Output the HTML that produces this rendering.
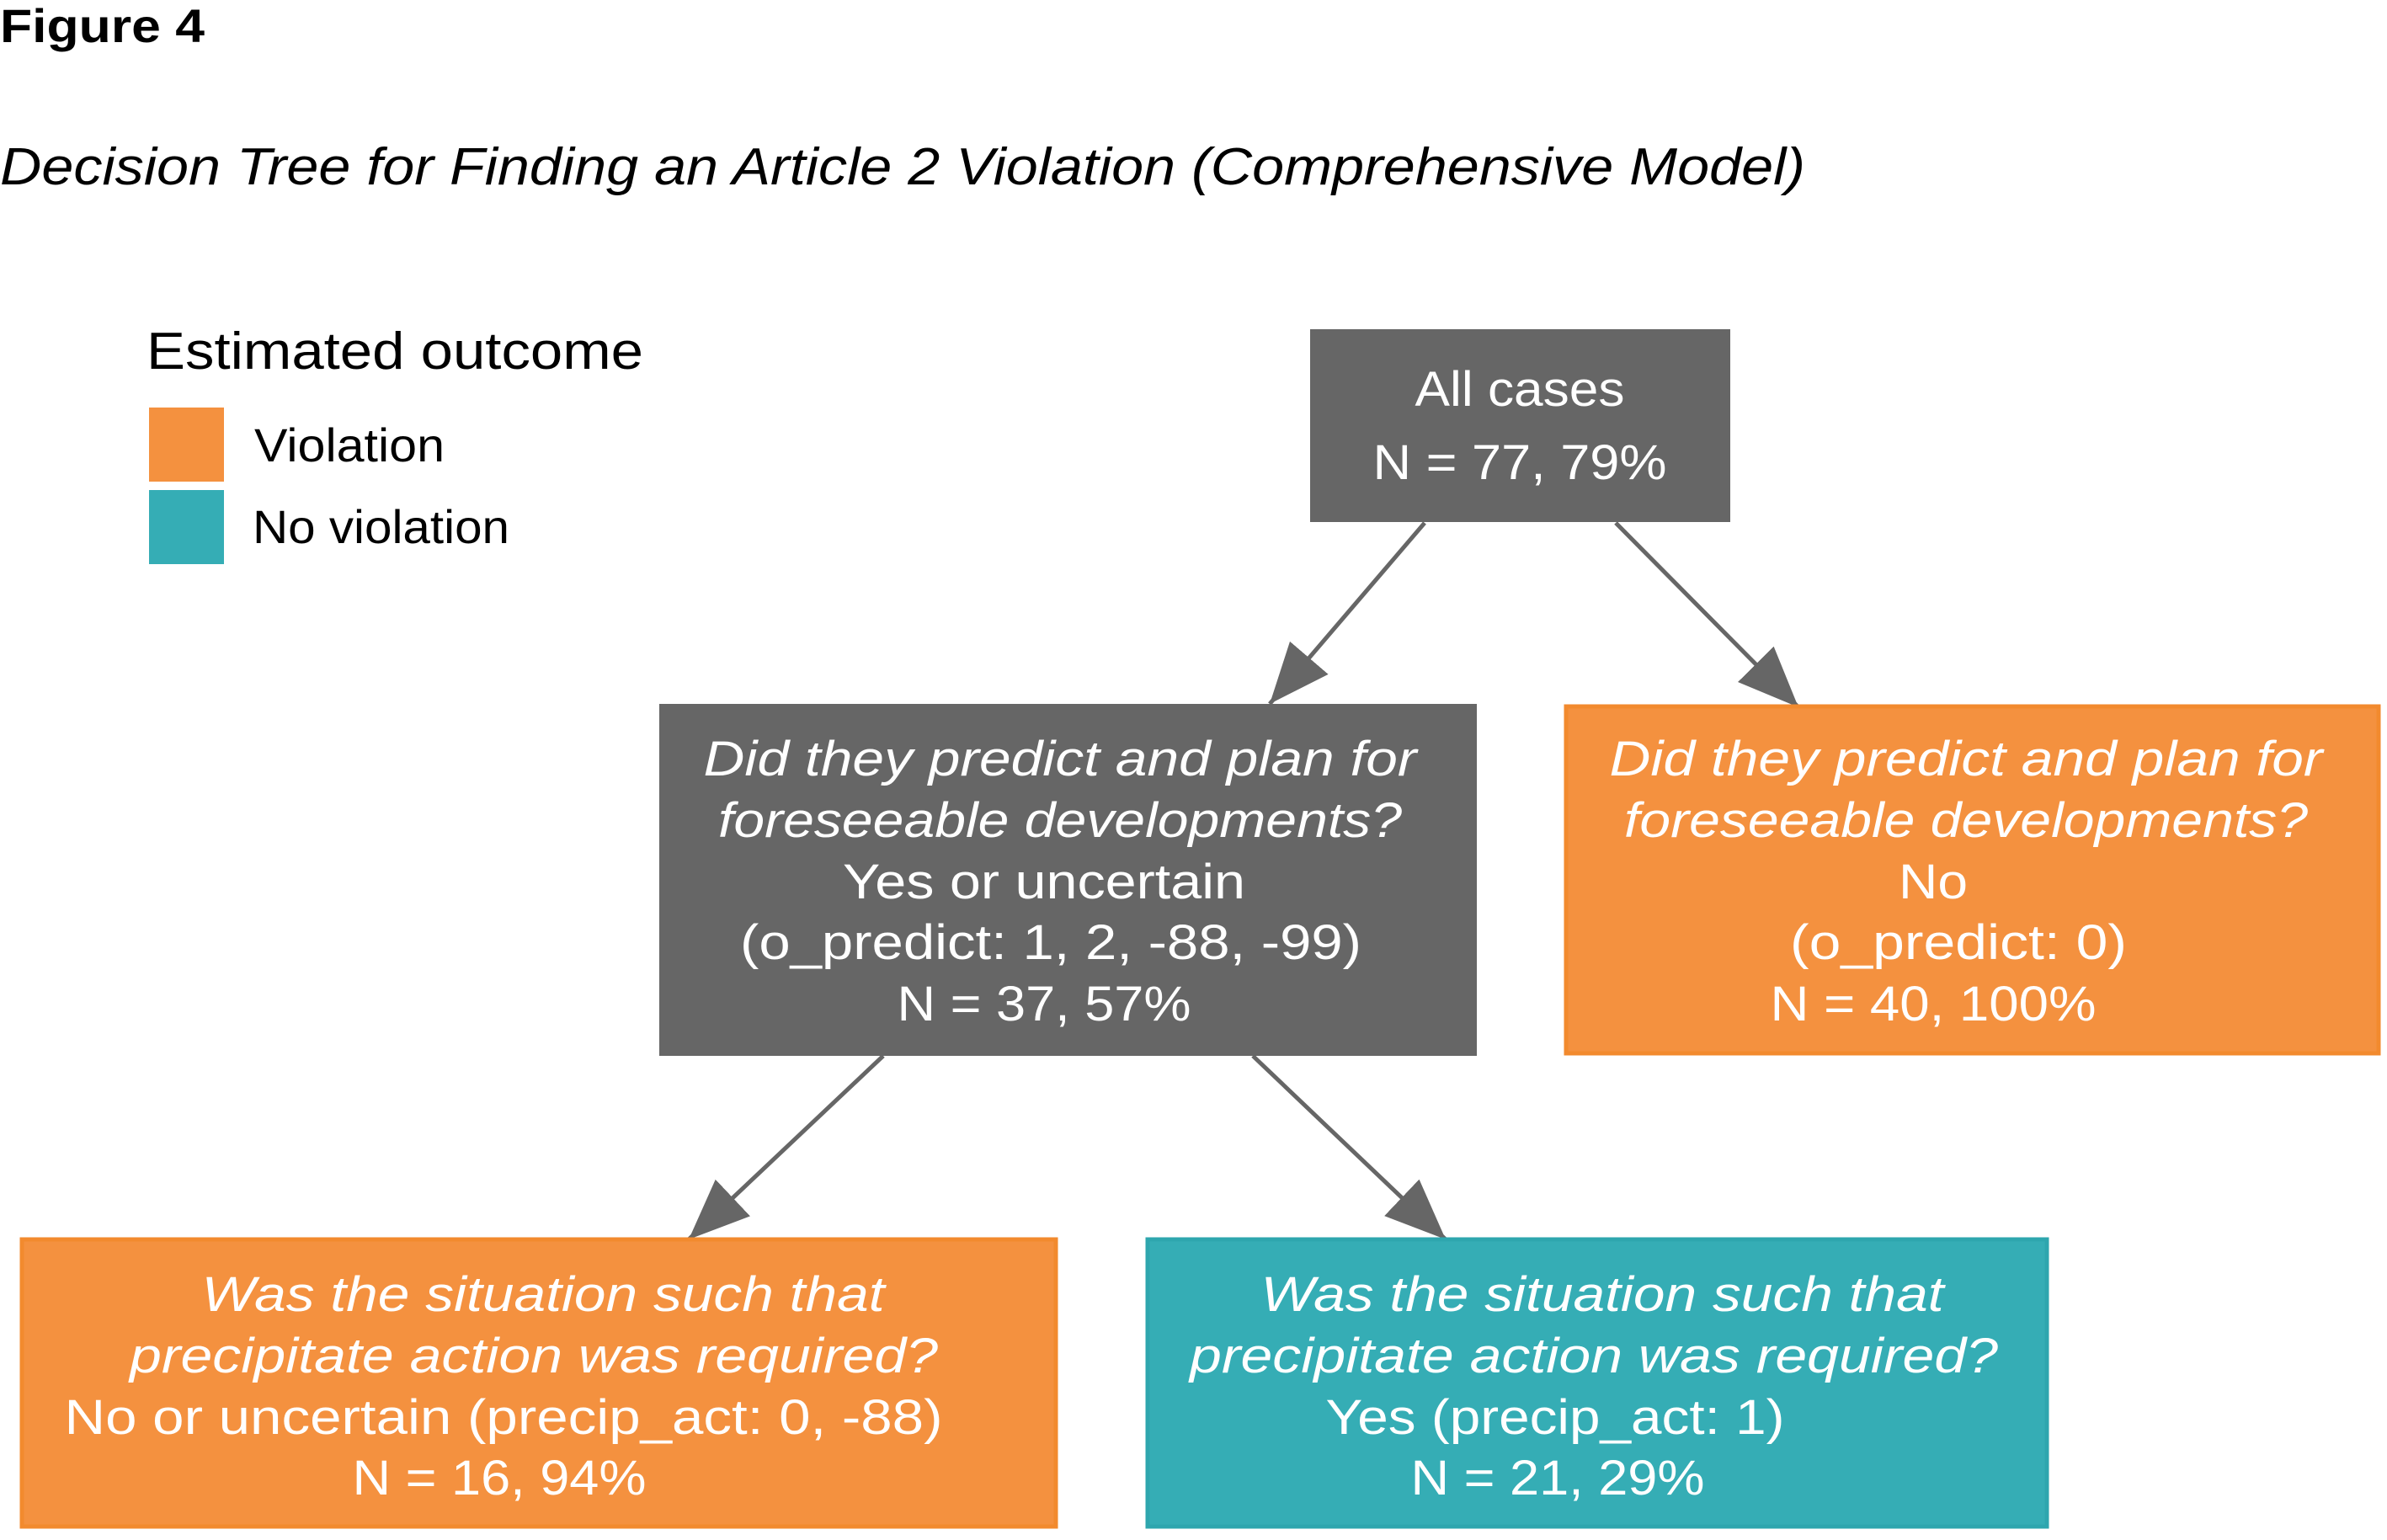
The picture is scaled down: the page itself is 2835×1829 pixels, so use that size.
<!DOCTYPE html>
<html><head><meta charset="utf-8"><style>html,body{margin:0;padding:0;background:#fff}svg{display:block}</style></head>
<body>
<svg width="2835" height="1829" viewBox="0 0 2835 1829" xmlns="http://www.w3.org/2000/svg" font-family="Liberation Sans, sans-serif">
<defs>
<marker id="ah" markerUnits="userSpaceOnUse" markerWidth="80" markerHeight="70" refX="72" refY="30" orient="auto">
<path d="M0,0 L72,30 L0,60 Z" fill="#666666"/>
</marker>
</defs>
<text x="0" y="50" font-size="56" font-weight="bold" textLength="243" lengthAdjust="spacingAndGlyphs">Figure 4</text>
<text x="0" y="219" font-size="62" font-style="italic" textLength="2144" lengthAdjust="spacingAndGlyphs">Decision Tree for Finding an Article 2 Violation (Comprehensive Model)</text>
<text x="174" y="438" font-size="62" textLength="590" lengthAdjust="spacingAndGlyphs">Estimated outcome</text>
<rect x="177" y="484" width="89" height="88" fill="#f4913f"/>
<rect x="177" y="582" width="89" height="88" fill="#35adb5"/>
<text x="302" y="548" font-size="56" textLength="226" lengthAdjust="spacingAndGlyphs">Violation</text>
<text x="300" y="645" font-size="56" textLength="305" lengthAdjust="spacingAndGlyphs">No violation</text>

<g stroke="#666666" stroke-width="5" marker-end="url(#ah)">
<line x1="1692" y1="621" x2="1508" y2="836"/>
<line x1="1919" y1="621" x2="2136" y2="840"/>
<line x1="1049" y1="1254" x2="818" y2="1472"/>
<line x1="1488" y1="1254" x2="1717" y2="1472"/>
</g>

<rect x="1556" y="391" width="499" height="229" fill="#666666"/>
<g fill="#fff" font-size="58" text-anchor="middle">
<text x="1805" y="482" textLength="249" lengthAdjust="spacingAndGlyphs">All cases</text>
<text x="1805" y="569" textLength="349" lengthAdjust="spacingAndGlyphs">N = 77, 79%</text>
</g>

<rect x="783" y="836" width="971" height="418" fill="#666666"/>
<g fill="#fff" font-size="58" text-anchor="middle">
<text x="1259" y="921" font-style="italic" textLength="847" lengthAdjust="spacingAndGlyphs">Did they predict and plan for</text>
<text x="1259" y="994" font-style="italic" textLength="812" lengthAdjust="spacingAndGlyphs">foreseeable developments?</text>
<text x="1240" y="1067" textLength="478" lengthAdjust="spacingAndGlyphs">Yes or uncertain</text>
<text x="1248" y="1139" textLength="738" lengthAdjust="spacingAndGlyphs">(o_predict: 1, 2, -88, -99)</text>
<text x="1240" y="1212" textLength="349" lengthAdjust="spacingAndGlyphs">N = 37, 57%</text>
</g>

<rect x="1860" y="839" width="965" height="412" fill="#f4913f" stroke="#f28a2e" stroke-width="5"/>
<g fill="#fff" font-size="58" text-anchor="middle">
<text x="2335" y="921" font-style="italic" textLength="847" lengthAdjust="spacingAndGlyphs">Did they predict and plan for</text>
<text x="2335" y="994" font-style="italic" textLength="812" lengthAdjust="spacingAndGlyphs">foreseeable developments?</text>
<text x="2296" y="1067" textLength="82" lengthAdjust="spacingAndGlyphs">No</text>
<text x="2326" y="1139" textLength="400" lengthAdjust="spacingAndGlyphs">(o_predict: 0)</text>
<text x="2296" y="1212" textLength="387" lengthAdjust="spacingAndGlyphs">N = 40, 100%</text>
</g>

<rect x="26" y="1472" width="1228" height="341" fill="#f4913f" stroke="#f28a2e" stroke-width="5"/>
<g fill="#fff" font-size="58" text-anchor="middle">
<text x="645" y="1557" font-style="italic" textLength="811" lengthAdjust="spacingAndGlyphs">Was the situation such that</text>
<text x="634" y="1630" font-style="italic" textLength="960" lengthAdjust="spacingAndGlyphs">precipitate action was required?</text>
<text x="598" y="1703" textLength="1043" lengthAdjust="spacingAndGlyphs">No or uncertain (precip_act: 0, -88)</text>
<text x="593" y="1775" textLength="349" lengthAdjust="spacingAndGlyphs">N = 16, 94%</text>
</g>

<rect x="1363" y="1472" width="1068" height="341" fill="#35adb5" stroke="#2ea6ae" stroke-width="5"/>
<g fill="#fff" font-size="58" text-anchor="middle">
<text x="1903" y="1557" font-style="italic" textLength="811" lengthAdjust="spacingAndGlyphs">Was the situation such that</text>
<text x="1893" y="1630" font-style="italic" textLength="960" lengthAdjust="spacingAndGlyphs">precipitate action was required?</text>
<text x="1847" y="1703" textLength="545" lengthAdjust="spacingAndGlyphs">Yes (precip_act: 1)</text>
<text x="1850" y="1775" textLength="349" lengthAdjust="spacingAndGlyphs">N = 21, 29%</text>
</g>
</svg>
</body></html>
